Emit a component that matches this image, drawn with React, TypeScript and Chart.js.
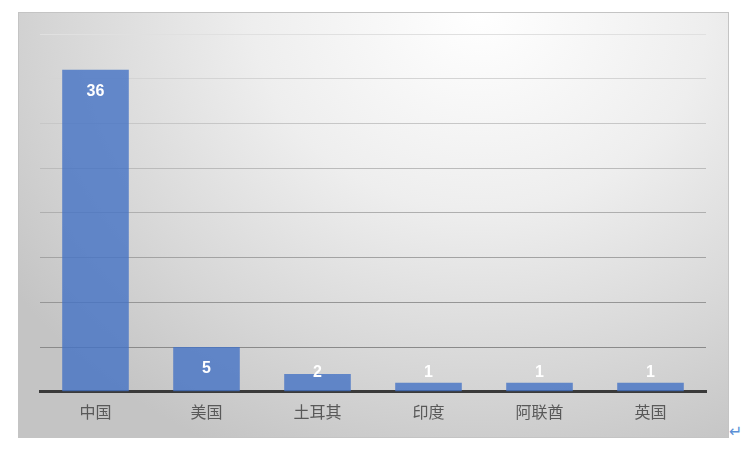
import React, { useEffect, useRef } from "react";
import Chart from "chart.js/auto";

const countries = ["中国", "美国", "土耳其", "印度", "阿联酋", "英国"];
const counts = [36, 5, 2, 1, 1, 1];
const yMax = 40;
const yStep = 5;

// white bold value labels, kept inside the plot like the original
const valueLabels = {
  id: "valueLabels",
  afterDatasetsDraw(chart: Chart) {
    const ctx = chart.ctx;
    const meta = chart.getDatasetMeta(0);
    const base = chart.scales.y.getPixelForValue(0);
    ctx.save();
    ctx.fillStyle = "#ffffff";
    ctx.font = "bold 16px 'Liberation Sans', Arial, sans-serif";
    ctx.textAlign = "center";
    ctx.textBaseline = "middle";
    meta.data.forEach((bar: any, i: number) => {
      const y = Math.min(bar.y + 22, base - 19);
      ctx.fillText(String(counts[i]), bar.x, y);
    });
    ctx.restore();
  },
};

const BarChart = () => {
  const chartRef = useRef<HTMLCanvasElement>(null);
  const chartInstanceRef = useRef<Chart | null>(null);

  useEffect(() => {
    if (!chartRef.current) return;
    const ctx = chartRef.current.getContext("2d");
    if (!ctx) return;

    if (chartInstanceRef.current) {
      chartInstanceRef.current.destroy();
    }

    chartInstanceRef.current = new Chart(ctx, {
      type: "bar",
      data: {
        labels: countries,
        datasets: [
          {
            label: "数量",
            data: counts,
            backgroundColor: "rgba(68, 114, 196, 0.8)",
            borderWidth: 0,
            barPercentage: 0.6,
            categoryPercentage: 1,
          },
        ],
      },
      options: {
        responsive: true,
        maintainAspectRatio: false,
        animation: false,
        layout: { padding: { left: 21, right: 22, top: 21, bottom: 4 } },
        plugins: {
          legend: { display: false },
          tooltip: { enabled: false },
        },
        scales: {
          x: {
            grid: { display: false, drawTicks: false },
            border: { display: true, color: "#3a3a3a", width: 3 },
            ticks: {
              padding: 11,
              color: "#595959",
              font: { family: "'Noto Sans CJK SC', sans-serif", size: 16 },
            },
          },
          y: {
            min: 0,
            max: yMax,
            ticks: { display: false, stepSize: yStep },
            border: { display: false },
            grid: {
              drawTicks: false,
              lineWidth: 1,
              color: (c: any) => {
                const v = c.tick ? c.tick.value : 0;
                const g = Math.round(224 - ((yMax - v) / (yMax - yStep)) * 86);
                return `rgb(${g}, ${g}, ${g})`;
              },
            },
          },
        },
      },
      plugins: [valueLabels],
    });

    return () => {
      if (chartInstanceRef.current) {
        chartInstanceRef.current.destroy();
      }
    };
  }, []);

  return (
    <div
      style={{
        position: "absolute",
        left: 10,
        top: 4,
        width: 711,
        height: 426,
        boxSizing: "border-box",
        border: "1px solid #c4c4c4",
        background:
          "radial-gradient(ellipse 80% 115% at 65% 0%, #ffffff 0%, #eeeeee 40%, #d6d6d6 75%, #c4c4c4 100%)",
      }}
    >
      <canvas ref={chartRef} />
    </div>
  );
};

const App = () => {
  return (
    <div style={{ position: "relative", width: 744, height: 442 }}>
      <BarChart />
      <span
        style={{
          position: "absolute",
          left: 721,
          top: 414,
          color: "#5b8fd6",
          fontSize: 16,
          fontFamily: "'DejaVu Sans', sans-serif",
        }}
      >
        ↵
      </span>
    </div>
  );
};

export default App;
